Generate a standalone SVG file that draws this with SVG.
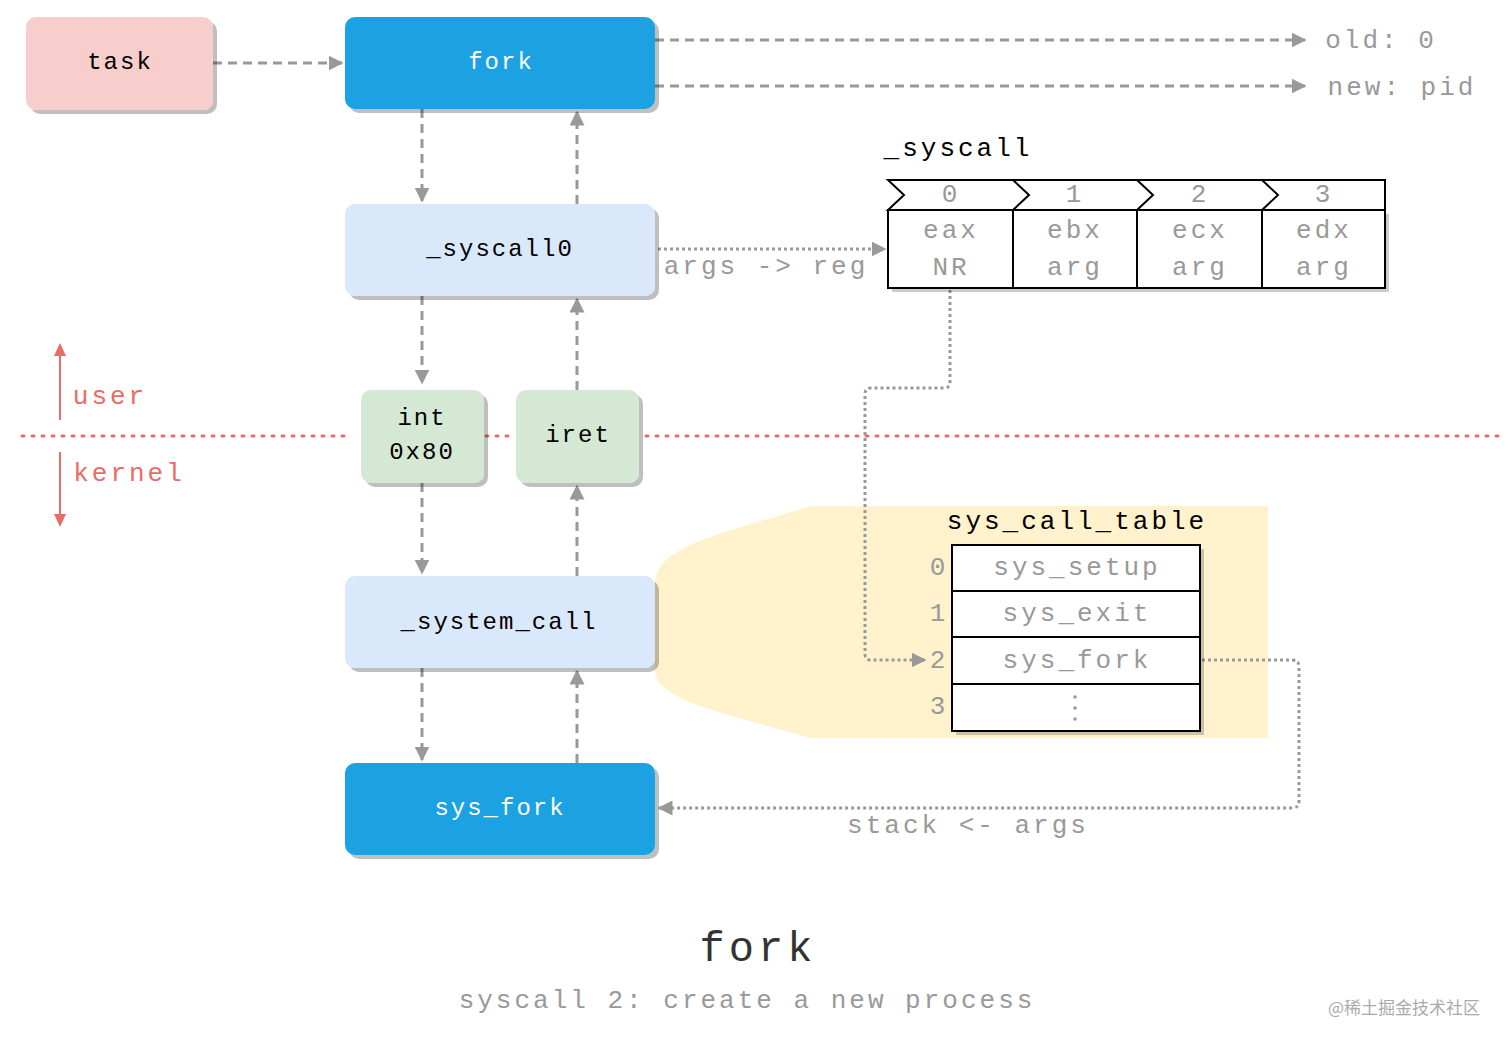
<svg xmlns="http://www.w3.org/2000/svg" width="1512" height="1044" viewBox="0 0 1512 1044">
<style>
text{font-family:"Liberation Mono","DejaVu Sans Mono",monospace;text-anchor:middle;dominant-baseline:central;letter-spacing:2px}
.l{letter-spacing:3px}
.n{stroke:none;filter:url(#sh)}
.c{fill:none;stroke:#999;stroke-width:3;stroke-dasharray:9 6}
.d{fill:none;stroke:#999;stroke-width:3;stroke-dasharray:3 3}
.g{fill:#999}
.cell{fill:#fff;stroke:#000;stroke-width:2}
</style>
<defs>
<filter id="sh" x="-10%" y="-10%" width="130%" height="130%"><feDropShadow dx="4" dy="4" stdDeviation="0.5" flood-color="#000" flood-opacity="0.25"/></filter>
<marker id="a" viewBox="0 0 10 10" refX="9" refY="5" markerWidth="5" markerHeight="5" orient="auto" markerUnits="strokeWidth"><path d="M0,0L10,5L0,10z" fill="#999"/></marker>
</defs>
<path d="M810,506H1268V738H810C720,712 655,700 655,670V585C655,545 720,535 810,506Z" fill="#fff2cc"/>
<g id="connectors">
<path class="c" d="M213,63H342" marker-end="url(#a)"/>
<path class="c" d="M655,40H1305" marker-end="url(#a)"/>
<path class="c" d="M655,86H1305" marker-end="url(#a)"/>
<path class="c" d="M422,109V201" marker-end="url(#a)"/>
<path class="c" d="M577,204V112" marker-end="url(#a)"/>
<path class="c" d="M422,296V383" marker-end="url(#a)"/>
<path class="c" d="M577,390V299" marker-end="url(#a)"/>
<path class="c" d="M422,483V573" marker-end="url(#a)"/>
<path class="c" d="M577,576V486" marker-end="url(#a)"/>
<path class="c" d="M422,668V760" marker-end="url(#a)"/>
<path class="c" d="M577,763V671" marker-end="url(#a)"/>
<path class="d" d="M658,249H885" marker-end="url(#a)"/>
<path class="d" d="M950,290V382Q950,388 944,388H871Q865,388 865,394V654Q865,660 871,660H925" marker-end="url(#a)"/>
<path class="d" d="M1202,660H1292Q1299,660 1299,667V801Q1299,808 1292,808H659" marker-end="url(#a)"/>
<path d="M22,436H350M486,436H514M646,436H1500" stroke="#ea6b66" stroke-width="3" stroke-dasharray="2 8" stroke-linecap="round" fill="none"/>
<path d="M60,420V346M60,452V524" stroke="#ea6b66" stroke-width="2"/>
<path d="M54,356L60,343L66,356zM54,514L60,527L66,514z" fill="#ea6b66"/>
</g>
<g id="task"><rect class="n" x="26" y="17" width="187" height="93" rx="10" fill="#f8cecc"/><text x="120" y="62" font-size="24">task</text></g>
<g id="fork"><rect class="n" x="345" y="17" width="310" height="92" rx="10" fill="#1ba1e2"/><text x="501" y="62" font-size="24" fill="#fff">fork</text></g>
<g id="syscall0"><rect class="n" x="345" y="204" width="310" height="92" rx="10" fill="#dae8fc"/><text x="500" y="249" font-size="24">_syscall0</text></g>
<g id="int80"><rect class="n" x="361" y="390" width="123" height="93" rx="10" fill="#d5e8d4"/><text x="422" y="418" font-size="24">int</text><text x="422" y="452" font-size="24">0x80</text></g>
<g id="iret"><rect class="n" x="516" y="390" width="123" height="93" rx="10" fill="#d5e8d4"/><text x="578" y="435" font-size="24">iret</text></g>
<g id="system_call"><rect class="n" x="345" y="576" width="310" height="92" rx="10" fill="#dae8fc"/><text x="499" y="622" font-size="24">_system_call</text></g>
<g id="sys_fork"><rect class="n" x="345" y="763" width="310" height="92" rx="10" fill="#1ba1e2"/><text x="500" y="808" font-size="24" fill="#fff">sys_fork</text></g>
<text class="l" x="766" y="267" font-size="26" fill="#999">args -&gt; reg</text>
<text class="l" x="968" y="826" font-size="26" fill="#999">stack &lt;- args</text>
<text class="l" x="110" y="397" font-size="26" fill="#ea6b66">user</text>
<text class="l" x="129" y="474" font-size="26" fill="#ea6b66">kernel</text>
<text class="l" x="1381" y="41" font-size="26" fill="#999">old: 0</text>
<text class="l" x="1402" y="88" font-size="26" fill="#999">new: pid</text>
<g id="syscall_regs">
<text class="l" x="958" y="149" font-size="26">_syscall</text>
<rect x="892" y="214" width="497" height="78" fill="#000" opacity="0.2"/>
<path class="cell" d="M888,180H1385V210H888L904,195Z"/>
<path d="M1013,180L1029,195L1013,210M1137,180L1153,195L1137,210M1262,180L1278,195L1262,210" fill="none" stroke="#000" stroke-width="2"/>
<rect class="cell" x="888" y="210" width="125" height="78"/><rect class="cell" x="1013" y="210" width="124" height="78"/><rect class="cell" x="1137" y="210" width="125" height="78"/><rect class="cell" x="1262" y="210" width="123" height="78"/>
<g font-size="26" fill="#999" class="l">
<text class="l" x="951" y="195">0</text><text class="l" x="1075" y="195">1</text><text class="l" x="1200" y="195">2</text><text class="l" x="1324" y="195">3</text>
<text class="l" x="951" y="231">eax</text><text class="l" x="951" y="268">NR</text>
<text class="l" x="1075" y="231">ebx</text><text class="l" x="1075" y="268">arg</text>
<text class="l" x="1200" y="231">ecx</text><text class="l" x="1200" y="268">arg</text>
<text class="l" x="1324" y="231">edx</text><text class="l" x="1324" y="268">arg</text>
</g></g>
<g id="sys_call_table">
<text class="l" x="1077" y="522" font-size="26">sys_call_table</text>
<rect x="956" y="549" width="248" height="186" fill="#000" opacity="0.2"/>
<rect class="cell" x="952" y="545" width="248" height="46"/><rect class="cell" x="952" y="591" width="248" height="46"/><rect class="cell" x="952" y="637" width="248" height="47"/><rect class="cell" x="952" y="684" width="248" height="47"/>
<g font-size="26" fill="#999">
<text class="l" x="939" y="568">0</text><text class="l" x="939" y="614">1</text><text class="l" x="939" y="661">2</text><text class="l" x="939" y="707">3</text>
<text class="l" x="1077" y="568">sys_setup</text><text class="l" x="1077" y="614">sys_exit</text><text class="l" x="1077" y="661">sys_fork</text>
</g>
<circle cx="1075" cy="697" r="1.8" class="g"/><circle cx="1075" cy="708" r="1.8" class="g"/><circle cx="1075" cy="719" r="1.8" class="g"/>
</g>
<text x="758" y="950" font-size="42" fill="#333" style="letter-spacing:4px">fork</text>
<text class="l" x="747" y="1001" font-size="26" fill="#999">syscall 2: create a new process</text>
<text x="1404" y="1006" font-size="17" fill="#aaa" style="font-family:'Noto Sans CJK SC',sans-serif;letter-spacing:0">@稀土掘金技术社区</text>
</svg>
